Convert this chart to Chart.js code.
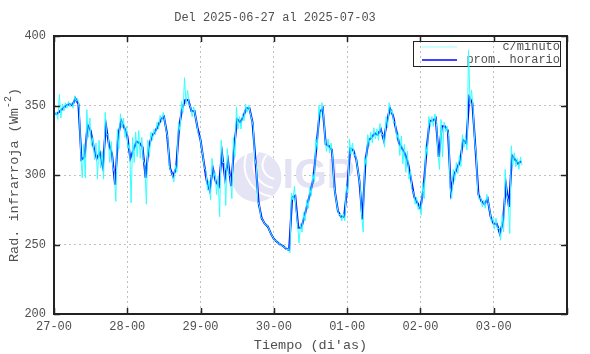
<!DOCTYPE html>
<html lang="es">
<head>
<meta charset="UTF-8">
<title>Rad. infrarroja</title>
<style>
    body {
        margin: 0;
        background: #ffffff;
    }
</style>
</head>
<body>
<canvas id="irChart" width="590" height="354"></canvas>

<script src="https://cdn.jsdelivr.net/npm/chart.js"></script>
<script>
    // tick labels (x in hours from 2025-06-27 00h)
    const dayLabels = ["27-00", "28-00", "29-00", "30-00", "01-00", "02-00", "03-00"];
    const yTicks = [200, 250, 300, 350, 400];

    // prom. horario (W/m2), one value per hour
    const hourly = [
        344, 344, 346, 348, 350, 351, 350, 355, 351, 311, 313, 336,
        332, 320, 312, 316, 306, 336, 322, 315, 293, 328, 339, 334,
        328, 312, 318, 324, 323, 320, 298, 320, 328, 331, 335, 340,
        342, 330, 305, 299, 305, 335, 348, 354, 354, 346, 346, 334,
        325, 310, 296, 289, 305, 295, 292, 316, 298, 310, 292, 320,
        340, 338, 342, 348, 348, 338, 310, 280, 269, 265, 263, 258,
        254, 252, 250, 249, 247, 246, 284, 285, 262, 262, 270, 279,
        288, 298, 322, 345, 348, 322, 321, 318, 288, 274, 270, 270,
        290, 319, 318, 311, 296, 268, 310, 325, 327, 330, 329, 333,
        325, 338, 348, 343, 333, 323, 319, 315, 308, 296, 284, 280,
        276, 290, 318, 339, 339, 341, 313, 335, 335, 332, 288, 300,
        305, 310, 325, 323, 356, 352, 320, 286, 281, 279, 283, 270,
        265, 265, 258, 266, 293, 277, 314, 311, 308, 310
    ];

    // c/minuto: spread of the minute data above / below the hourly value
    const cyanUp = [
        1, 1, 12, 3, 2, 2, 2, 2, 4, 5, 9, 11,
        9, 7, 11, 9, 11, 9, 7, 9, 9, 5, 5, 7,
        7, 11, 9, 7, 9, 7, 9, 5, 3, 2, 3, 3,
        3, 2, 2, 2, 2, 3, 5, 16, 7, 3, 3, 3,
        3, 4, 7, 7, 7, 7, 7, 9, 11, 9, 7, 7,
        9, 4, 2, 3, 2, 2, 2, 1, 1, 1, 1, 1,
        1, 1, 1, 1, 1, 1, 3, 7, 3, 3, 3, 3,
        3, 3, 4, 5, 4, 5, 5, 5, 4, 3, 2, 2,
        2, 7, 5, 4, 4, 3, 3, 4, 4, 4, 4, 4,
        4, 4, 4, 4, 5, 7, 9, 7, 9, 7, 4, 4,
        3, 5, 3, 3, 3, 3, 3, 5, 3, 3, 3, 4,
        4, 4, 4, 4, 34, 9, 5, 3, 3, 3, 3, 4,
        4, 4, 4, 5, 11, 5, 7, 5, 4, 3
    ];
    const cyanDn = [
        1, 4, 5, 2, 2, 2, 2, 2, 3, 13, 15, 9,
        11, 9, 15, 11, 9, 7, 13, 9, 12, 9, 5, 7,
        9, 32, 9, 11, 11, 9, 19, 7, 3, 2, 2, 2,
        3, 3, 3, 4, 3, 3, 3, 3, 3, 4, 3, 5,
        4, 5, 7, 7, 7, 9, 22, 7, 20, 9, 9, 7,
        7, 5, 3, 3, 3, 3, 3, 2, 1, 1, 1, 1,
        1, 1, 1, 1, 1, 2, 2, 9, 11, 3, 3, 3,
        3, 3, 4, 4, 4, 5, 5, 5, 4, 3, 3, 3,
        3, 4, 4, 4, 4, 9, 3, 4, 4, 4, 4, 4,
        5, 4, 4, 5, 7, 9, 11, 13, 11, 7, 5, 5,
        5, 7, 4, 4, 4, 4, 9, 22, 4, 4, 5, 4,
        4, 4, 5, 5, 5, 4, 5, 4, 4, 3, 3, 4,
        4, 4, 5, 7, 7, 19, 7, 5, 4, 3
    ];

    const FONT = "'Liberation Mono', 'DejaVu Sans Mono', monospace";
    const TXT = '#505050';

    const hourlyPts = hourly.map((v, h) => ({ x: h, y: v }));
    const minutePts = [];
    hourly.forEach((v, h) => {
        minutePts.push({ x: h - 0.25, y: v + cyanUp[h] });
        minutePts.push({ x: h + 0.25, y: v - cyanDn[h] });
    });

    // frame, inward ticks, titles, legend, watermark
    const decor = {
        id: 'decor',
        beforeDatasetsDraw(chart) {
            const c = chart.ctx, a = chart.chartArea;
            const cx = (a.left + a.right) / 2, cy = (a.top + a.bottom) / 2;
            c.save();
            // IGP watermark
            c.fillStyle = '#e4e4f5';
            c.beginPath();
            c.arc(cx - 54, cy + 2, 25, 0, Math.PI * 2);
            c.fill();
            c.strokeStyle = '#ffffff';
            c.lineWidth = 2;
            for (let i = 0; i < 3; i++) {
                c.beginPath();
                c.arc(cx - 34, cy - 10, 14 + i * 9, Math.PI * 0.55, Math.PI * 1.25);
                c.stroke();
            }
            c.fillStyle = '#e2e2f4';
            c.font = "bold 42px 'Liberation Sans', Arial, sans-serif";
            c.textAlign = 'left';
            c.textBaseline = 'middle';
            c.fillText('IGP', cx - 28, cy + 1);

            // legend
            const lx = a.right - 6, ly = a.top + 5;
            c.strokeStyle = '#222';
            c.lineWidth = 1;
            c.strokeRect(lx - 147.5, ly + 0.5, 147, 25);
            c.strokeStyle = '#9ff';
            c.beginPath(); c.moveTo(lx - 139, ly + 6); c.lineTo(lx - 104, ly + 6); c.stroke();
            c.lineWidth = 1.5;
            c.strokeStyle = '#0000ff';
            c.beginPath(); c.moveTo(lx - 139, ly + 19); c.lineTo(lx - 104, ly + 19); c.stroke();
            c.fillStyle = TXT;
            c.font = '12px ' + FONT;
            c.textAlign = 'right';
            c.fillText('c/minuto', lx - 1, ly + 6);
            c.fillText('prom. horario', lx - 1, ly + 19);
            c.restore();
        },
        afterDraw(chart) {
            const c = chart.ctx, a = chart.chartArea;
            const xs = chart.scales.x, ys = chart.scales.y;
            c.save();
            c.strokeStyle = '#222';
            c.lineWidth = 1.5;
            xs.ticks.forEach(t => {
                const px = Math.round(xs.getPixelForValue(t.value)) + 0.5;
                c.beginPath();
                c.moveTo(px, a.bottom); c.lineTo(px, a.bottom - 6);
                c.moveTo(px, a.top); c.lineTo(px, a.top + 6);
                c.stroke();
            });
            ys.ticks.forEach(t => {
                const py = Math.round(ys.getPixelForValue(t.value)) + 0.5;
                c.beginPath();
                c.moveTo(a.left, py); c.lineTo(a.left + 6, py);
                c.moveTo(a.right, py); c.lineTo(a.right - 6, py);
                c.stroke();
            });
            c.lineWidth = 2;
            c.strokeRect(a.left, a.top, a.right - a.left, a.bottom - a.top);

            // titles
            c.fillStyle = TXT;
            c.font = '12px ' + FONT;
            c.textAlign = 'center';
            c.textBaseline = 'middle';
            c.fillText('Del 2025-06-27 al 2025-07-03', 275, 18);
            c.font = '13.5px ' + FONT;
            c.fillText("Tiempo (di'as)", (a.left + a.right) / 2, 345);

            c.translate(14, (a.top + a.bottom) / 2);
            c.rotate(-Math.PI / 2);
            const main = 'Rad. infrarroja (Wm', sup = '-2', end = ')';
            c.font = '13.5px ' + FONT;
            const w1 = c.measureText(main).width, w3 = c.measureText(end).width;
            c.font = '10px ' + FONT;
            const w2 = c.measureText(sup).width;
            let x0 = -(w1 + w2 + w3) / 2;
            c.textAlign = 'left';
            c.font = '13.5px ' + FONT;
            c.fillText(main, x0, 0);
            c.font = '10px ' + FONT;
            c.fillText(sup, x0 + w1, -6);
            c.font = '13.5px ' + FONT;
            c.fillText(end, x0 + w1 + w2, 0);
            c.restore();
        }
    };

    const ctx = document.getElementById('irChart').getContext('2d');
    const irChart = new Chart(ctx, {
        type: 'line',
        data: {
            datasets: [{
                label: 'c/minuto',
                data: minutePts,
                borderColor: '#33ffff',
                borderWidth: 1,
                pointRadius: 0,
                tension: 0
            }, {
                label: 'prom. horario',
                data: hourlyPts,
                borderColor: '#0000ff',
                borderWidth: 2,
                pointRadius: 0,
                tension: 0
            }]
        },
        options: {
            responsive: false,
            animation: false,
            layout: { padding: { left: 0, top: 36, right: 23, bottom: 0 } },
            plugins: {
                legend: { display: false },
                tooltip: { enabled: false }
            },
            scales: {
                x: {
                    type: 'linear',
                    min: 0,
                    max: 168,
                    afterBuildTicks: s => { s.ticks = dayLabels.map((d, i) => ({ value: i * 24 })).concat([{ value: 168 }]); },
                    afterFit: s => { s.height = 40; },
                    ticks: {
                        padding: 6,
                        color: TXT,
                        font: { family: FONT, size: 12 },
                        callback: (v) => dayLabels[v / 24] || ''
                    },
                    grid: { color: '#c0c0c0', drawTicks: false, lineWidth: 1 },
                    border: { display: false, dash: [2, 3] }
                },
                y: {
                    min: 200,
                    max: 400,
                    afterBuildTicks: s => { s.ticks = yTicks.map(v => ({ value: v })); },
                    afterFit: s => { s.width = 54; },
                    ticks: {
                        padding: 8,
                        color: TXT,
                        font: { family: FONT, size: 12 }
                    },
                    grid: { color: '#c0c0c0', drawTicks: false, lineWidth: 1 },
                    border: { display: false, dash: [2, 3] }
                }
            }
        },
        plugins: [decor]
    });
</script>
</body>
</html>
